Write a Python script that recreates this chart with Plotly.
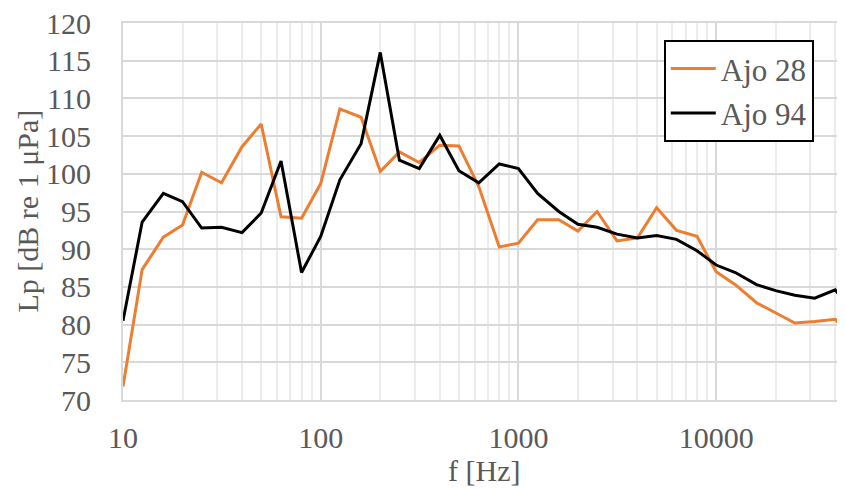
import plotly.graph_objects as go

freq = [10, 12.5, 16, 20, 25, 31.5, 40, 50, 63, 80, 100, 125, 160, 200, 250, 315, 400, 500,
        630, 800, 1000, 1250, 1600, 2000, 2500, 3150, 4000, 5000, 6300, 8000, 10000, 12500,
        16000, 20000, 25000, 31500, 40000, 50000]

ajo28 = [71.8, 87.3, 91.6, 93.2, 100.2, 98.8, 103.6, 106.6, 94.3, 94.1, 98.7, 108.6, 107.5,
         100.3, 102.9, 101.5, 103.8, 103.7, 98.3, 90.3, 90.8, 93.9, 93.9, 92.4, 95.0, 91.1,
         91.5, 95.5, 92.5, 91.7, 87.0, 85.3, 82.9, 81.5, 80.2, 80.4, 80.7, 77.9]

ajo94 = [80.5, 93.6, 97.4, 96.3, 92.8, 92.9, 92.2, 94.8, 101.7, 86.9, 91.7, 99.2, 104.0,
         116.1, 101.8, 100.7, 105.1, 100.4, 98.8, 101.3, 100.7, 97.4, 95.0, 93.3, 92.9, 92.0,
         91.5, 91.8, 91.3, 89.8, 87.9, 86.9, 85.3, 84.5, 83.9, 83.5, 84.6, 81.4]

x_tickvals = [10, 100, 1000, 10000]
x_ticktext = ["10", "100", "1000", "10000"]
y_tickvals = [70, 75, 80, 85, 90, 95, 100, 105, 110, 115, 120]

FONT = "Liberation Serif, Times New Roman, serif"
GRAY = "#595959"
FS = 30

# page body has an 8px default margin; size the figure so it fills the window
OFF = 8

fig = go.Figure()
fig.add_trace(go.Scatter(x=freq, y=ajo28, mode="lines", name="Ajo 28", legendgroup="a",
                         line=dict(color="#ED7D31", width=3)))
fig.add_trace(go.Scatter(x=freq, y=ajo94, mode="lines", name="Ajo 94", legendgroup="b",
                         line=dict(color="#000000", width=3)))

fig.update_layout(
    width=845 - OFF, height=489 - OFF,
    margin=dict(l=123 - OFF, r=0, t=23 - OFF, b=89, autoexpand=False),
    paper_bgcolor="white", plot_bgcolor="white",
    font=dict(family=FONT, size=FS, color=GRAY),
    showlegend=True,
    legend=dict(x=0.749, y=0.955, xanchor="left", yanchor="top",
                bordercolor="#000000", borderwidth=2, bgcolor="white",
                tracegroupgap=1, itemwidth=45,
                font=dict(family=FONT, size=31, color=GRAY)),
    xaxis=dict(
        type="log", range=[1, 1 + (845 - 122.7) / 197.8],
        tickvals=x_tickvals, ticktext=x_ticktext,
        showgrid=True, gridcolor="#d9d9d9", gridwidth=1.5,
        minor=dict(dtick="D1", showgrid=True, gridcolor="#ececec", gridwidth=1.5),
        showline=True, linecolor="#d9d9d9", linewidth=2, mirror=True,
        ticks="", ticklabelstandoff=10, automargin=False,
        ticklabeloverflow="allow",
        zeroline=False,
    ),
    yaxis=dict(
        range=[70, 120], tickvals=y_tickvals,
        showgrid=True, gridcolor="#d9d9d9", gridwidth=1.5,
        showline=True, linecolor="#d9d9d9", linewidth=2,
        ticks="", ticklabelstandoff=24, automargin=False,
        ticklabeloverflow="allow",
        zeroline=False,
    ),
    annotations=[
        dict(text="f [Hz]", xref="paper", yref="paper", x=0.5, y=(400 - 470) / 377,
             xanchor="center", yanchor="middle", showarrow=False,
             font=dict(family=FONT, size=FS, color=GRAY)),
        dict(text="Lp [dB re 1 μPa]", xref="paper", yref="paper", x=(27 - 123) / 722, y=0.5,
             xanchor="center", yanchor="middle", textangle=-90, showarrow=False,
             font=dict(family=FONT, size=FS, color=GRAY)),
    ],
)

fig.write_html("out.html")
